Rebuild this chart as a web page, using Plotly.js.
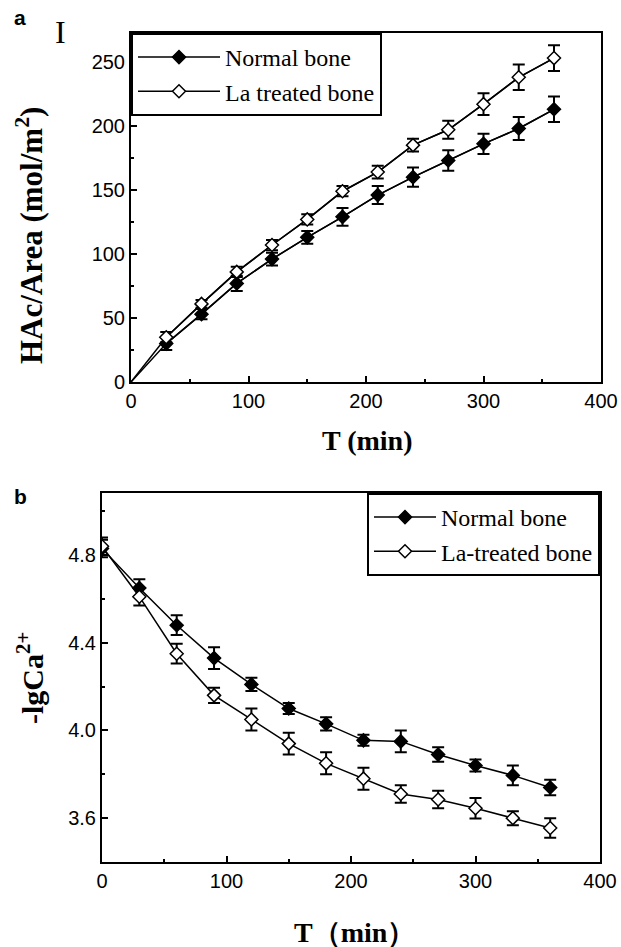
<!DOCTYPE html>
<html>
<head>
<meta charset="utf-8">
<script src="https://cdn.plot.ly/plotly-3.0.1.min.js"></script>
<style>html,body{margin:0;padding:0;background:#fff;}#chart{width:621px;height:947px;}</style>
</head>
<body>
<div id="chart"></div>
<script>
// ---- Data ----
const timeMin = [0, 30, 60, 90, 120, 150, 180, 210, 240, 270, 300, 330, 360];

// Panel a: HAc/Area (mol/m2)  (first value is the origin, drawn as line only)
const normalHAc = [0, 30, 53, 77, 96, 113, 129, 146, 160, 173, 186, 198, 213];
const normalHAcErr = [0, 5, 4, 6, 5, 5, 7, 7, 7.5, 8, 8, 9, 10];
const laHAc = [0, 35, 61, 86, 107, 127, 149, 164, 185, 197, 217, 238, 253];
const laHAcErr = [0, 4, 3, 4, 4, 4, 4, 5, 5, 7, 8.5, 10, 10];

// Panel b: -lgCa2+
const normalCa = [4.83, 4.65, 4.48, 4.33, 4.21, 4.10, 4.03, 3.955, 3.95, 3.89, 3.84, 3.795, 3.74];
const normalCaErr = [0.04, 0.04, 0.045, 0.05, 0.03, 0.025, 0.03, 0.025, 0.05, 0.033, 0.027, 0.045, 0.035];
const laCa = [4.84, 4.61, 4.35, 4.16, 4.05, 3.94, 3.85, 3.78, 3.71, 3.685, 3.645, 3.60, 3.555];
const laCaErr = [0.04, 0.04, 0.045, 0.035, 0.05, 0.05, 0.05, 0.05, 0.04, 0.04, 0.047, 0.032, 0.044];

const seriesNamesA = ["Normal bone", "La treated bone"];
const seriesNamesB = ["Normal bone", "La-treated bone"];
const xTicks = [0, 100, 200, 300, 400];
const yTicksA = [0, 50, 100, 150, 200, 250];
const yTicksB = [3.6, 4.0, 4.4, 4.8];

// ---- Figure ----
const W = 621, H = 947;
const px = v => v / W;
const py = v => 1 - v / H;

function markTrace(x, y, err, name, filled, xa, ya, leg) {
  return {
    type: 'scatter', mode: 'lines+markers', x: x, y: y, name: name,
    xaxis: xa, yaxis: ya, legend: leg,
    line: {color: '#000', width: 1.5},
    marker: {symbol: 'diamond', size: 10, color: filled ? '#000' : '#fff',
             line: {color: '#000', width: 1.5}},
    error_y: {type: 'data', array: err, visible: true, color: '#000', thickness: 2, width: 6}
  };
}
function lineTrace(x, y, xa, ya) {
  return {type: 'scatter', mode: 'lines', x: x, y: y, xaxis: xa, yaxis: ya,
          showlegend: false, line: {color: '#000', width: 1.5}, hoverinfo: 'skip'};
}

const data = [
  lineTrace(timeMin, normalHAc, 'x', 'y'),
  lineTrace(timeMin, laHAc, 'x', 'y'),
  markTrace(timeMin.slice(1), normalHAc.slice(1), normalHAcErr.slice(1), seriesNamesA[0], true, 'x', 'y', 'legend'),
  markTrace(timeMin.slice(1), laHAc.slice(1), laHAcErr.slice(1), seriesNamesA[1], false, 'x', 'y', 'legend'),
  markTrace(timeMin, normalCa, normalCaErr, seriesNamesB[0], true, 'x2', 'y2', 'legend2'),
  markTrace(timeMin, laCa, laCaErr, seriesNamesB[1], false, 'x2', 'y2', 'legend2')
];

const tickFont = {family: 'Liberation Sans, Arial, sans-serif', size: 20, color: '#000'};
function axis(extra) {
  return Object.assign({
    showline: true, linewidth: 2, linecolor: '#000', mirror: true,
    ticks: 'inside', ticklen: 6, tickwidth: 2, tickcolor: '#000',
    showgrid: false, zeroline: false, tickfont: tickFont, fixedrange: true
  }, extra);
}

const serif = 'Liberation Serif, Times New Roman, serif';

function ann(text, x, y, font, angle) {
  return {text: text, x: px(x), y: py(y), xref: 'paper', yref: 'paper', showarrow: false,
          xanchor: 'center', yanchor: 'middle', textangle: angle || 0, font: font};
}

const layout = {
  width: W, height: H,
  margin: {l: 0, r: 0, t: 0, b: 0},
  paper_bgcolor: '#fff', plot_bgcolor: '#fff',
  xaxis: axis({domain: [px(131), px(601)], range: [0, 400], tickvals: xTicks, anchor: 'y',
               minor: {ticks: 'inside', ticklen: 3, tickwidth: 2, dtick: 50, tick0: 0, tickcolor: '#000'}}),
  yaxis: axis({domain: [py(382), py(33)], range: [0, 272.6], tickvals: yTicksA, anchor: 'x',
               minor: {ticks: 'inside', ticklen: 3, tickwidth: 2, dtick: 25, tick0: 0, tickcolor: '#000'}}),
  xaxis2: axis({domain: [px(102), px(600)], range: [0, 400], tickvals: xTicks, anchor: 'y2',
               minor: {ticks: 'inside', ticklen: 3, tickwidth: 2, dtick: 50, tick0: 0, tickcolor: '#000'}}),
  yaxis2: axis({domain: [py(862), py(493)], range: [3.4, 5.083], tickvals: yTicksB, tickformat: '.1f', anchor: 'x2',
               minor: {ticks: 'inside', ticklen: 3, tickwidth: 2, dtick: 0.2, tick0: 3.4, tickcolor: '#000'}}),
  legend: {x: px(131), y: py(33), xanchor: 'left', yanchor: 'top', bgcolor: '#fff',
           bordercolor: '#000', borderwidth: 2, font: {family: serif, size: 24, color: '#000'},
           tracegroupgap: 0, itemwidth: 82},
  legend2: {x: px(600), y: py(493), xanchor: 'right', yanchor: 'top', bgcolor: '#fff',
            bordercolor: '#000', borderwidth: 2, font: {family: serif, size: 24, color: '#000'},
            tracegroupgap: 0, itemwidth: 62},
  showlegend: true,
  annotations: [
    ann('<b>a</b>', 20, 18, {family: 'Liberation Sans, Arial, sans-serif', size: 21, color: '#000'}),
    ann('I', 60, 32, {family: serif, size: 32, color: '#000'}),
    ann('<b>b</b>', 20, 496, {family: 'Liberation Sans, Arial, sans-serif', size: 21, color: '#000'}),
    ann('<b>HAc/Area (mol/m<sup>2</sup>)</b>', 30, 236, {family: serif, size: 31, color: '#000'}, -90),
    ann('<b>T (min)</b>', 367, 440, {family: serif, size: 28, color: '#000'}),
    ann('<b>-lgCa<sup>2+</sup></b>', 30, 678, {family: serif, size: 30, color: '#000'}, -90),
    ann('<b>T（min）</b>', 354, 932, {family: serif, size: 28, color: '#000'})
  ]
};

Plotly.newPlot('chart', data, layout, {staticPlot: true, displayModeBar: false});
</script>
</body>
</html>
